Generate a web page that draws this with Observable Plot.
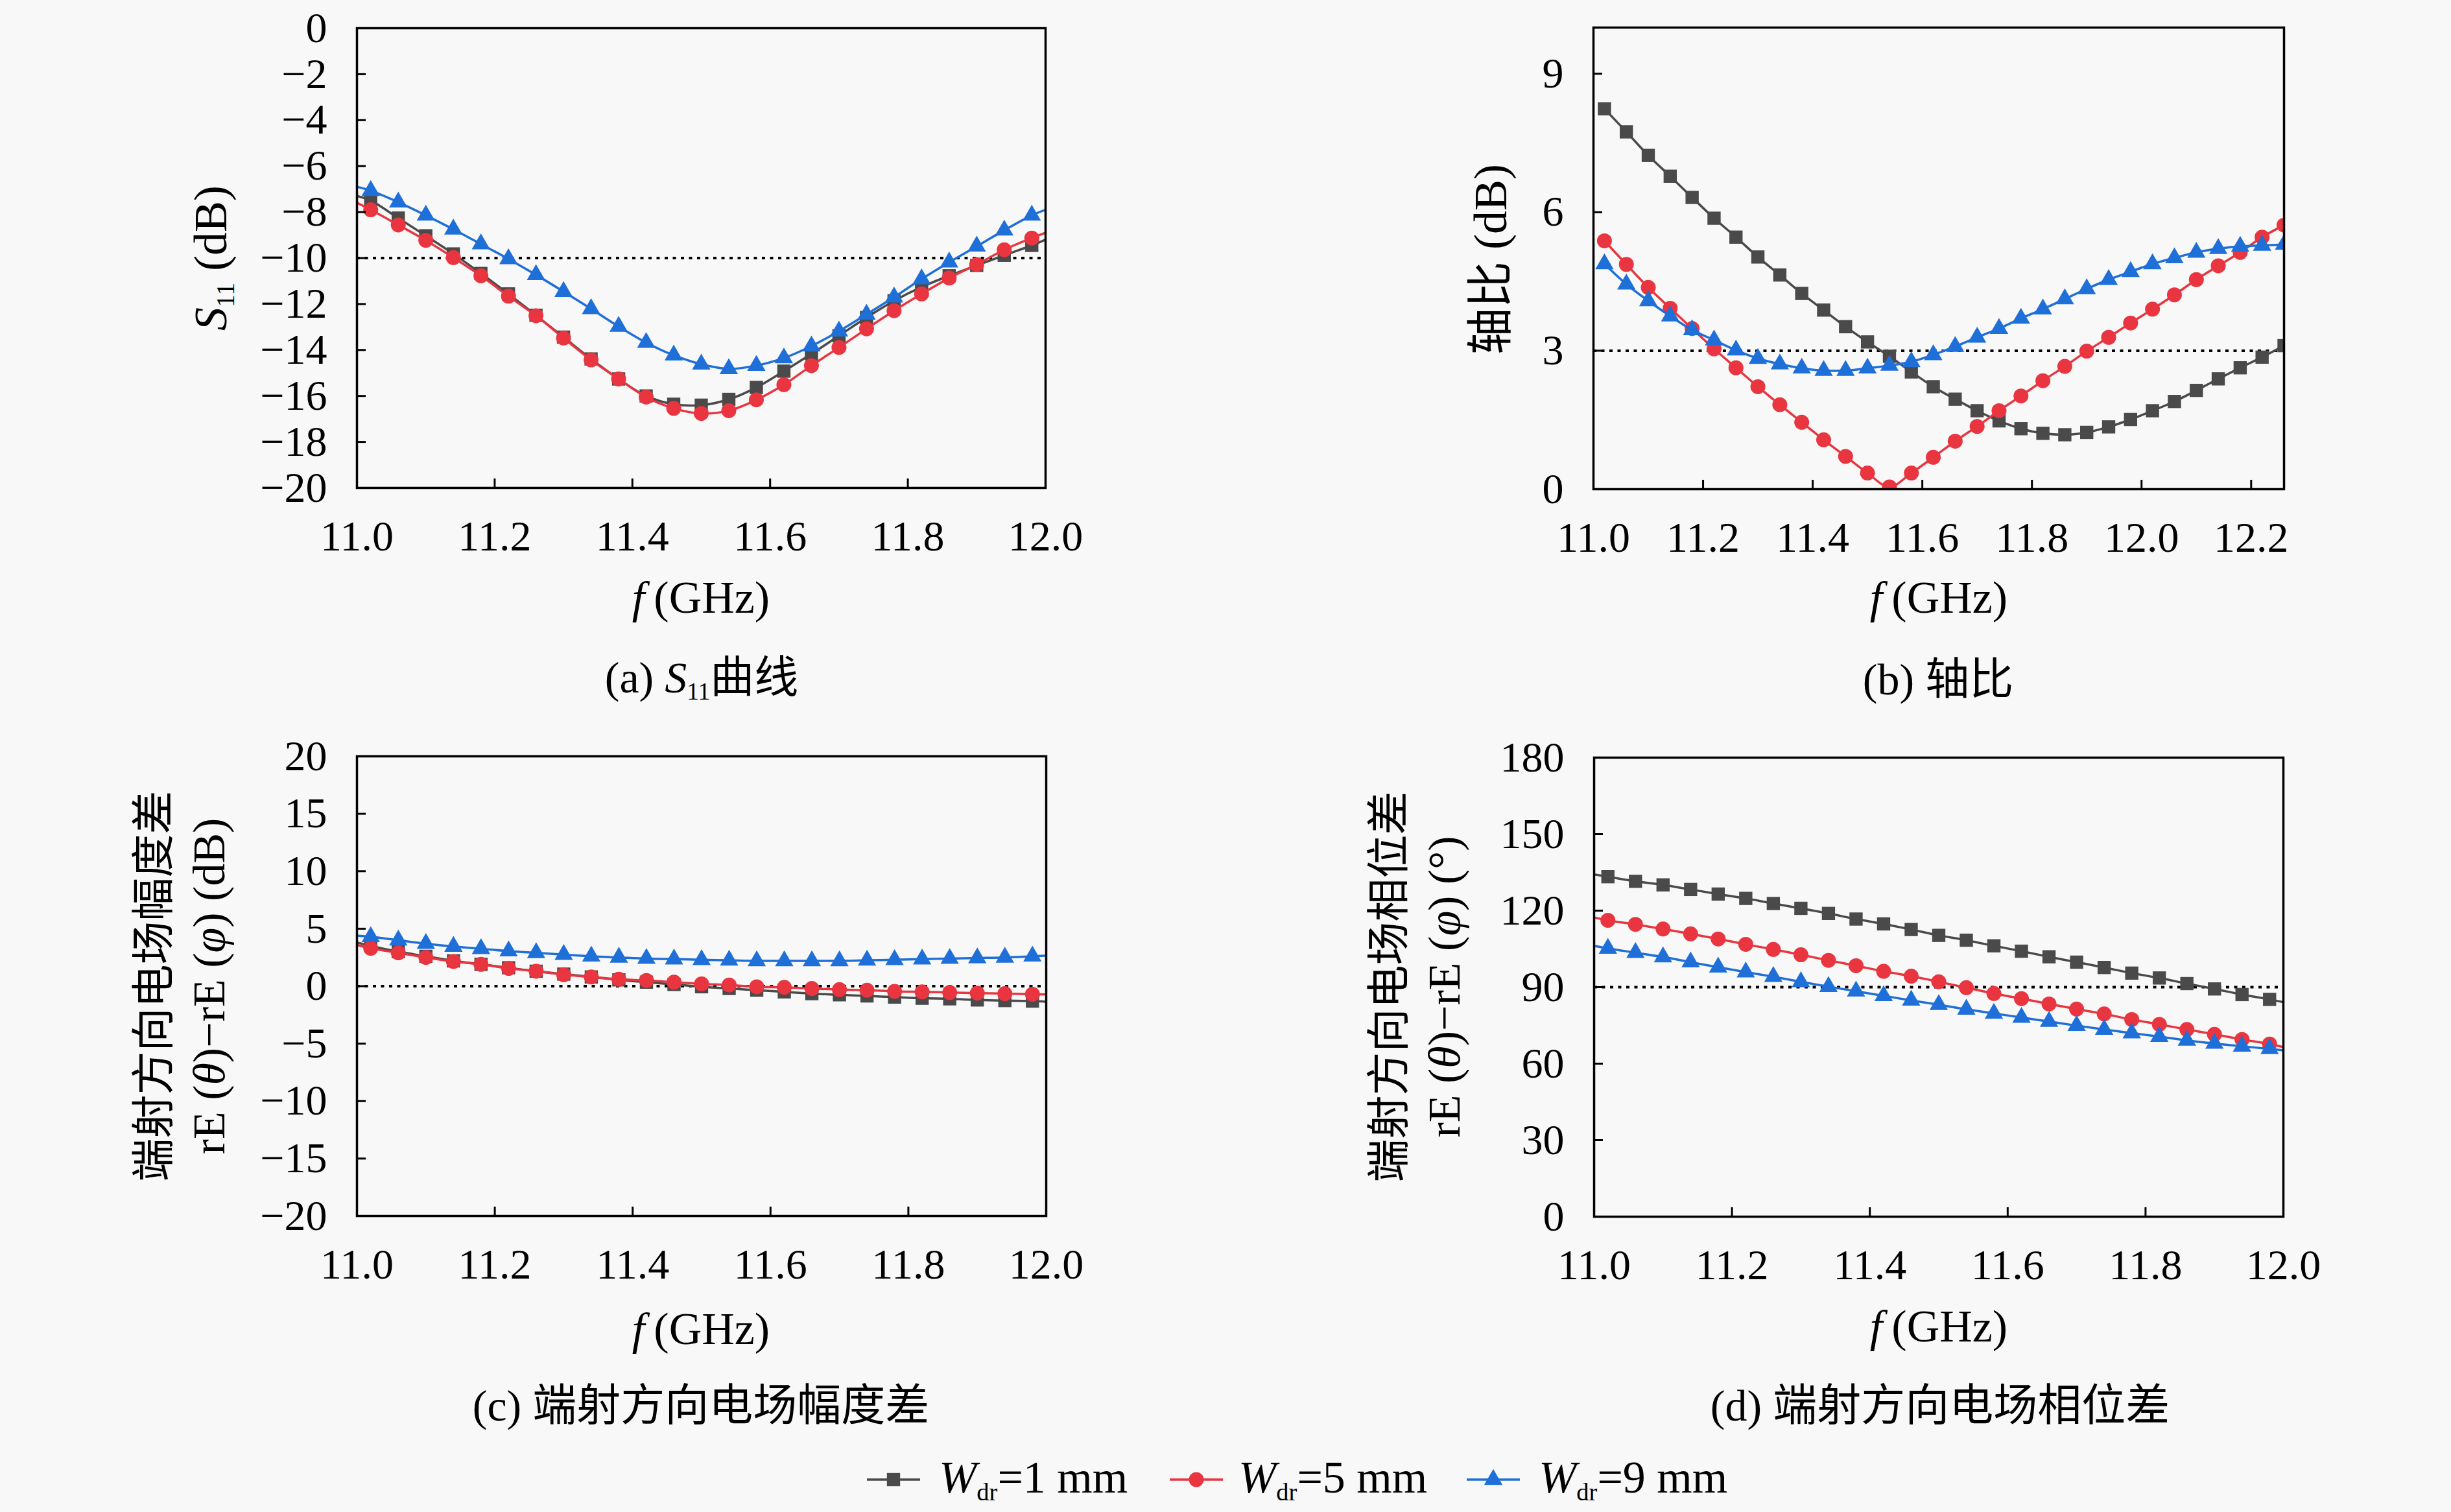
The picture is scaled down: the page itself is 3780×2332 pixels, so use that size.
<!DOCTYPE html>
<html>
<head>
<meta charset="utf-8">
<script src="https://cdn.jsdelivr.net/npm/d3@7"></script>
<script src="https://cdn.jsdelivr.net/npm/@observablehq/plot@0.6"></script>
<style>
  html, body { margin: 0; padding: 0; background: #f8f8f8; }
  #root { position: relative; width: 3780px; height: 2332px; overflow: hidden; background: #f8f8f8;
          font-family: "Liberation Serif", "Noto Sans CJK SC", serif; color: #000; }
  .abs { position: absolute; white-space: nowrap; transform: translate(-50%, -50%); line-height: 1; }
  .rot { transform: translate(-50%, -50%) rotate(-90deg); }
  .sub { font-size: 0.55em; vertical-align: -0.3em; }
  .cjk { font-family: "Noto Sans CJK SC", sans-serif; }
  svg.plot { position: absolute; overflow: visible; }
</style>
</head>
<body>
<div id="root"></div>
<script>
// ---------- data ----------
const fA = [11.02,11.06,11.10,11.14,11.18,11.22,11.26,11.30,11.34,11.38,11.42,11.46,11.50,11.54,11.58,11.62,11.66,11.70,11.74,11.78,11.82,11.86,11.90,11.94,11.98];
const fB = [11.02,11.06,11.10,11.14,11.18,11.22,11.26,11.30,11.34,11.38,11.42,11.46,11.50,11.54,11.58,11.62,11.66,11.70,11.74,11.78,11.82,11.86,11.90,11.94,11.98,12.02,12.06,12.10,12.14,12.18,12.22,12.26];

const seriesNames = ["1", "5", "9"];

// (a) S11 (dB)
const s11_1 = [-7.50,-8.26,-9.03,-9.82,-10.67,-11.56,-12.49,-13.44,-14.39,-15.26,-16.00,-16.36,-16.40,-16.15,-15.63,-14.92,-14.17,-13.38,-12.59,-11.86,-11.26,-10.77,-10.32,-9.88,-9.45];
const s11_5 = [-7.90,-8.56,-9.23,-9.98,-10.77,-11.66,-12.51,-13.48,-14.43,-15.26,-16.05,-16.54,-16.76,-16.64,-16.17,-15.51,-14.68,-13.89,-13.08,-12.29,-11.56,-10.87,-10.28,-9.64,-9.13];
const s11_9 = [-7.07,-7.57,-8.14,-8.75,-9.39,-10.04,-10.73,-11.46,-12.21,-12.98,-13.68,-14.23,-14.62,-14.82,-14.68,-14.35,-13.83,-13.18,-12.45,-11.70,-10.91,-10.18,-9.49,-8.79,-8.14];
const s11Start = [-7.3, -7.6, -6.9];   // line value at 11.0 GHz
const s11End   = [-9.2, -8.9, -7.9];   // line value at 12.0 GHz

// (b) axial ratio (dB)
const ar_1 = [8.24,7.74,7.23,6.78,6.32,5.87,5.46,5.03,4.64,4.24,3.88,3.52,3.19,2.88,2.54,2.22,1.95,1.70,1.48,1.31,1.21,1.18,1.23,1.35,1.51,1.70,1.90,2.14,2.39,2.63,2.86,3.11];
const ar_5 = [5.38,4.87,4.37,3.92,3.48,3.04,2.63,2.22,1.83,1.45,1.07,0.71,0.35,0.05,0.35,0.69,1.04,1.36,1.70,2.02,2.35,2.66,2.99,3.29,3.60,3.90,4.21,4.54,4.84,5.13,5.46,5.72];
const ar_9 = [4.88,4.44,4.08,3.75,3.45,3.23,3.01,2.83,2.71,2.62,2.57,2.57,2.62,2.68,2.76,2.91,3.09,3.29,3.48,3.70,3.90,4.12,4.34,4.54,4.71,4.88,5.01,5.13,5.21,5.26,5.28,5.30];

// (c) amplitude difference (dB)
const amp_1 = [3.5,3.0,2.6,2.2,1.9,1.6,1.3,1.05,0.8,0.55,0.35,0.15,-0.05,-0.2,-0.35,-0.5,-0.65,-0.75,-0.85,-0.95,-1.05,-1.1,-1.2,-1.25,-1.3];
const amp_5 = [3.3,2.9,2.5,2.15,1.9,1.55,1.3,1.0,0.8,0.6,0.5,0.35,0.2,0.1,-0.05,-0.1,-0.2,-0.3,-0.35,-0.45,-0.5,-0.55,-0.6,-0.65,-0.7];
const amp_9 = [4.3,4.0,3.7,3.45,3.25,3.05,2.9,2.75,2.6,2.5,2.4,2.35,2.3,2.25,2.2,2.2,2.2,2.2,2.25,2.3,2.35,2.4,2.45,2.5,2.6];
const ampStart = [3.8, 3.6, 4.4];
const ampEnd   = [-1.35, -0.72, 2.65];

// (d) phase difference (deg)
const ph_1 = [133.3,131.5,130.1,128.3,126.5,124.8,122.8,120.9,118.9,116.7,114.8,112.6,110.3,108.4,106.2,104.1,101.9,99.8,97.7,95.5,93.6,91.4,89.3,87.1,85.2];
const ph_5 = [116.2,114.6,112.8,110.9,108.9,106.8,104.8,102.7,100.5,98.4,96.2,94.3,92.1,89.8,87.5,85.5,83.4,81.4,79.5,77.3,75.4,73.4,71.5,69.5,67.7];
const ph_9 = [105.2,103.5,101.8,99.8,97.8,95.9,94.1,92.1,90.2,88.4,86.6,84.8,83.1,81.3,79.7,78.1,76.5,74.9,73.4,72.0,70.6,69.1,67.9,66.8,65.8];
const phStart = [134.2, 117.3, 106.2];
const phEnd   = [84.1, 66.5, 65.2];

// ticks
const xTicks1 = [11.0, 11.2, 11.4, 11.6, 11.8, 12.0];
const xTicks2 = [11.0, 11.2, 11.4, 11.6, 11.8, 12.0, 12.2];
const yTicksA = [-20,-18,-16,-14,-12,-10,-8,-6,-4,-2,0];
const yTicksB = [0, 3, 6, 9];
const yTicksC = [-20,-15,-10,-5,0,5,10,15,20];
const yTicksD = [0, 30, 60, 90, 120, 150, 180];

// ---------- styles ----------
const colors  = ["#4a4a4a", "#e8353f", "#1f6fd8"];
const symbols = ["square", "circle", "triangle"];
const radii   = [11.5, 11.5, 10.5];
const FONT = '"Liberation Serif", "Noto Sans CJK SC", serif';
const root = document.getElementById("root");

function fmtY(d) { return d < 0 ? "\u2212" + (-d) : String(d); }

function panel(o) {
  const mr = 40, mb = 130;
  const marks = [];
  marks.push(Plot.ruleY([o.ref], {stroke: "#000", strokeWidth: 4, strokeDasharray: "5,7.5"}));
  o.values.forEach((vals, i) => {
    const pts = o.f.map((x, j) => ({x, y: vals[j]}));
    const linePts = [];
    if (o.starts) linePts.push({x: o.xDomain[0], y: o.starts[i]});
    linePts.push(...pts);
    if (o.ends) linePts.push({x: o.xDomain[1], y: o.ends[i]});
    marks.push(Plot.line(linePts, {x: "x", y: "y", stroke: colors[i], strokeWidth: 3.5, curve: "catmull-rom", clip: true}));
    marks.push(Plot.dot(pts, {x: "x", y: "y", symbol: symbols[i], r: radii[i], fill: colors[i], stroke: "none", clip: true}));
  });
  marks.push(Plot.tickX(o.xTicks, {x: d => d, insetTop: o.fh - 14, stroke: "#000", strokeWidth: 3}));
  marks.push(Plot.tickY(o.yTicks, {y: d => d, insetRight: o.fw - 14, stroke: "#000", strokeWidth: 3}));
  marks.push(Plot.axisX({ticks: o.xTicks, tickSize: 0, tickPadding: 50, tickFormat: d => d.toFixed(1), label: null, fontSize: 66, fontFamily: FONT}));
  marks.push(Plot.axisY({ticks: o.yTicks, tickSize: 0, tickPadding: 46, tickFormat: fmtY, label: null, fontSize: 66, fontFamily: FONT}));
  marks.push(Plot.frame({stroke: "#000", strokeWidth: 3.5}));
  const svg = Plot.plot({
    width: o.ml + o.fw + mr,
    height: o.mt + o.fh + mb,
    marginLeft: o.ml, marginTop: o.mt, marginRight: mr, marginBottom: mb,
    x: {domain: o.xDomain},
    y: {domain: o.yDomain},
    style: {fontFamily: FONT, fontSize: "66px", background: "transparent", color: "#000", overflow: "visible"},
    marks
  });
  svg.classList.add("plot");
  svg.style.left = o.left + "px";
  svg.style.top = o.top + "px";
  root.appendChild(svg);
}

panel({f: fA, values: [s11_1, s11_5, s11_9], starts: s11Start, ends: s11End,
  xDomain: [11, 12], xTicks: xTicks1, yDomain: [-20, 0], yTicks: yTicksA, ref: -10,
  left: 0, top: 0, ml: 550, mt: 43, fw: 1062, fh: 709});
panel({f: fB, values: [ar_1, ar_5, ar_9],
  xDomain: [11, 12.26], xTicks: xTicks2, yDomain: [0, 10], yTicks: yTicksB, ref: 3,
  left: 1900, top: 0, ml: 557, mt: 42, fw: 1065, fh: 712});
panel({f: fA, values: [amp_1, amp_5, amp_9], starts: ampStart, ends: ampEnd,
  xDomain: [11, 12], xTicks: xTicks1, yDomain: [-20, 20], yTicks: yTicksC, ref: 0,
  left: 0, top: 1100, ml: 550, mt: 66, fw: 1063, fh: 709});
panel({f: fA, values: [ph_1, ph_5, ph_9], starts: phStart, ends: phEnd,
  xDomain: [11, 12], xTicks: xTicks1, yDomain: [0, 180], yTicks: yTicksD, ref: 90,
  left: 1900, top: 1100, ml: 558, mt: 68, fw: 1063, fh: 708});

// ---------- texts ----------
function addText(html, cx, cy, size, rot) {
  const d = document.createElement("div");
  d.className = "abs" + (rot ? " rot" : "");
  d.style.left = cx + "px";
  d.style.top = cy + "px";
  d.style.fontSize = size + "px";
  d.innerHTML = html;
  root.appendChild(d);
}
const fG = '<i>f</i>\u2009(GHz)';
addText(fG, 1081, 922, 70);
addText(fG, 2990, 922, 70);
addText(fG, 1081, 2050, 70);
addText(fG, 2990, 2046, 70);

addText('(a) <i>S</i><span class="sub">11</span><span class="cjk">曲线</span>', 1082, 1045, 68);
addText('(b) <span class="cjk">轴比</span>', 2989, 1045, 68);
addText('(c) <span class="cjk">端射方向电场幅度差</span>', 1081, 2165, 68);
addText('(d) <span class="cjk">端射方向电场相位差</span>', 2992, 2165, 68);

addText('<i>S</i><span class="sub">11</span> (dB)', 329, 398, 72, true);
addText('<span class="cjk">轴比</span> (dB)', 2295, 400, 72, true);
addText('<span class="cjk">端射方向电场幅度差</span>', 234, 1521, 67, true);
addText('rE (<i>θ</i>)\u2212rE (<i>φ</i>) (dB)', 323, 1521, 70, true);
addText('<span class="cjk">端射方向电场相位差</span>', 2139, 1522, 67, true);
addText('rE (<i>θ</i>)\u2212rE (<i>φ</i>) (°)', 2228, 1522, 70, true);

// ---------- legend ----------
const legendSwatchX = [1337, 1804, 2262];
const legendTextX = [1448, 1910, 2373];
const legendLabels = ["1", "5", "9"];
const legendY = 2282;
legendLabels.forEach((lab, i) => {
  const sw = d3.create("svg").attr("width", 82).attr("height", 40)
    .style("position", "absolute").style("left", legendSwatchX[i] + "px").style("top", (legendY - 20) + "px");
  sw.append("line").attr("x1", 0).attr("x2", 82).attr("y1", 20).attr("y2", 20)
    .attr("stroke", colors[i]).attr("stroke-width", 3.5);
  const sym = [d3.symbolSquare, d3.symbolCircle, d3.symbolTriangle][i];
  sw.append("path").attr("transform", "translate(41,20)")
    .attr("d", d3.symbol(sym, Math.PI * radii[i] * radii[i])()).attr("fill", colors[i]);
  root.appendChild(sw.node());
  const t = document.createElement("div");
  t.style.position = "absolute";
  t.style.left = legendTextX[i] + "px";
  t.style.top = legendY + "px";
  t.style.transform = "translateY(-50%)";
  t.style.fontSize = "70px";
  t.style.whiteSpace = "nowrap";
  t.style.lineHeight = "1";
  t.innerHTML = '<i>W</i><span class="sub">dr</span>=' + lab + ' mm';
  root.appendChild(t);
});
</script>
</body>
</html>
